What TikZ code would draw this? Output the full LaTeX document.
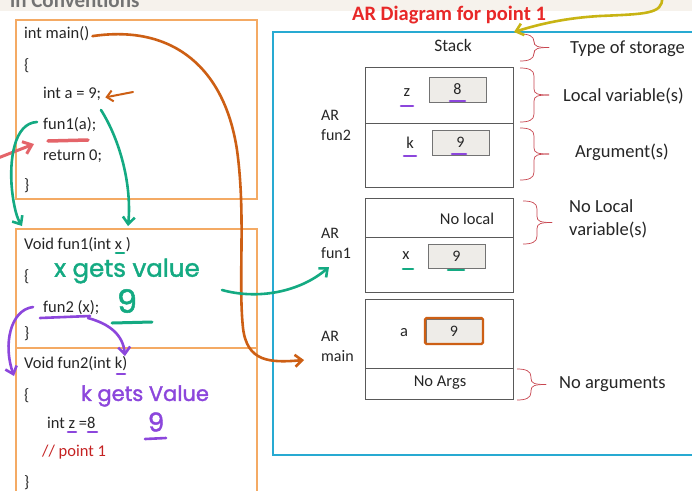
\documentclass[tikz,border=0pt]{standalone}
\usepackage{fontspec}
\setmainfont{Carlito}
\newfontfamily\handfont{Poppins}[FakeBold=1.6]
\usetikzlibrary{arrows.meta}

\definecolor{codeframe}{RGB}{244,170,100}
\definecolor{stackframe}{RGB}{40,170,210}
\definecolor{titlered}{RGB}{232,40,40}
\definecolor{bracered}{RGB}{200,70,80}
\definecolor{penorange}{RGB}{205,95,20}
\definecolor{pengreen}{RGB}{20,170,130}
\definecolor{penpurple}{RGB}{140,70,220}
\definecolor{penpink}{RGB}{228,100,105}
\definecolor{penyellow}{RGB}{200,180,20}
\definecolor{cellfill}{RGB}{238,236,232}
\definecolor{topband}{RGB}{246,242,236}

\tikzset{
  code/.style={anchor=base west, inner sep=0pt, font=\fontsize{16.5}{19}\selectfont, text=black!85},
  comment/.style={code, text=titlered!85!black},
  sidelabel/.style={inner sep=0pt, font=\fontsize{18.5}{22}\selectfont, text=black!85},
  boxtext/.style={inner sep=0pt, font=\fontsize{16.5}{20}\selectfont, text=black!85},
  arname/.style={anchor=west, align=left, inner sep=0pt, font=\fontsize{16}{20}\selectfont, text=black!85},
  codebox/.style={draw=codeframe, line width=1.5pt},
  arbox/.style={draw=black!65, line width=0.8pt},
  cell/.style={draw=black!55, fill=cellfill, line width=0.8pt, inner sep=0pt, font=\fontsize{16}{20}\selectfont, text=black!85},
  bracepen/.style={draw=bracered, line width=0.7pt},
  pen/.style={line width=2.6pt, line cap=round, line join=round},
  penarrow/.style={pen, -{Straight Barb[length=7pt,width=12pt,line width=2.6pt]}},
  hand/.style={inner sep=0pt, font=\handfont\fontsize{24.5}{27}\selectfont},
}

% curly brace opening to the left, tip pointing right
\newcommand\sidebrace[3]{%
  \pgfmathsetmacro\bm{(#2+#3)/2}%
  \draw[bracepen] (#1,#2) .. controls (#1+9,#2) and (#1+14,#2+2) .. (#1+14,#2+8)
    -- (#1+14,\bm-6) .. controls (#1+14,\bm-1) and (#1+18,\bm) .. (#1+29,\bm);
  \draw[bracepen] (#1+29,\bm) .. controls (#1+18,\bm) and (#1+14,\bm+1) .. (#1+14,\bm+6)
    -- (#1+14,#3-8) .. controls (#1+14,#3-2) and (#1+9,#3) .. (#1,#3);
}

\begin{document}
\begin{tikzpicture}[x=1pt,y=-1pt]
\useasboundingbox (0,0) rectangle (692,490);
\fill[white] (0,0) rectangle (692,490);
\fill[topband] (0,0) rectangle (692,11);
\begin{scope}
  \clip (0,0) rectangle (692,9);
  \node[anchor=base west, inner sep=0pt, font=\bfseries\fontsize{21}{24}\selectfont, text=black!55] (heading) at (10,7) {in Conventions};
\end{scope}

% ---------- source code frames ----------
\draw[codebox] (16,20) rectangle (257,199);
\draw[codebox] (16,229) rectangle (257,348);
\draw[codebox] (16,348) -- (16,495);
\draw[codebox] (257,348) -- (257,495);

\node[code] (mainsig)   at (24,38)  {int main()};
\node[code] (mainopen)  at (24,70)  {\{};
\node[code] (decla)     at (43,98)  {int a = 9;};
\node[code] (callf1)    at (43,129) {fun1(a);};
\node[code] (ret)       at (43,160) {return 0;};
\node[code] (mainclose) at (24,190) {\}};
\node[code] (f1sig)     at (24,249) {Void fun1(int x )};
\node[code] (f1open)    at (24,281) {\{};
\node[code] (callf2)    at (43,312) {fun2 (x);};
\node[code] (f1close)   at (24,338) {\}};
\node[code] (f2sig)     at (24,368) {Void fun2(int k)};
\node[code] (f2open)    at (24,400) {\{};
\node[code] (declz)     at (47,428) {int z =8};
\node[comment] (pt1)    at (42,456) {// point 1};
\node[code] (f2close)   at (24,487) {\}};

% ---------- activation record diagram ----------
\node[font=\bfseries\fontsize{20.5}{24}\selectfont, text=titlered, inner sep=0pt] (title) at (449,15) {AR Diagram for point 1};
\draw[draw=stackframe, line width=1.6pt] (700,32) -- (273,32) -- (273,455) -- (700,455);
\node[boxtext, font=\fontsize{17.5}{20}\selectfont] (stack) at (453,45) {Stack};

% AR of fun2
\node[arbox, minimum width=148pt, minimum height=120pt, inner sep=0pt] (arf2) at (439,127) {};
\draw[arbox] (365,123) -- (513,123);
\node[boxtext] (zname) at (407,93) {z};
\node[cell, minimum width=57pt, minimum height=25pt] (zval) at (457.5,89.5) {8};
\node[boxtext] (kname) at (410,143) {k};
\node[cell, minimum width=57pt, minimum height=25pt] (kval) at (460.5,142.5) {9};
\node[arname] (arf2lab) at (321,125) {AR\\fun2};

% AR of fun1
\node[arbox, minimum width=148pt, minimum height=94pt, inner sep=0pt] (arf1) at (439,245) {};
\draw[arbox] (365,237) -- (513,237);
\node[boxtext] (nolocal) at (467,219) {No local};
\node[boxtext] (xname) at (406,256) {x};
\node[cell, minimum width=57pt, minimum height=24pt] (xval) at (456.5,256) {9};
\node[arname] (arf1lab) at (321,243) {AR\\fun1};

% AR of main
\node[arbox, minimum width=148pt, minimum height=100pt, inner sep=0pt] (armain) at (439,349) {};
\draw[arbox] (365,368) -- (513,368);
\node[boxtext] (aname) at (404,333) {a};
\node[cell, minimum width=56pt, minimum height=24pt] (aval) at (454,331) {9};
\draw[penorange, line width=2.4pt, rounded corners=1.5pt] (425,318) rectangle (483,344);
\node[arname] (armainlab) at (321,346) {AR\\main};
\node[boxtext] (noargs) at (440,383) {No Args};

% braces and their labels
\sidebrace{520}{34}{61}
\node[sidelabel, anchor=base west] (typelab) at (570,53) {Type of storage};
\sidebrace{520}{68}{122}
\node[sidelabel, anchor=base west] (locallab) at (563,101) {Local variable(s)};
\sidebrace{520}{128}{180}
\node[sidelabel, anchor=base west] (arglab) at (575,157) {Argument(s)};
\sidebrace{523}{201}{244}
\node[sidelabel, anchor=west, align=left, font=\fontsize{18.5}{23}\selectfont] (nolocallab) at (569,219) {No Local\\variable(s)};
\sidebrace{517}{369}{400}
\node[sidelabel, anchor=base west] (noarglab) at (559,388) {No arguments};

% ---------- pen annotations ----------
% yellow pointer to the diagram
\coordinate (ytop) at (662,-2);
\coordinate (yend) at (514,32);
\draw[penyellow, penarrow] (ytop) .. controls (663,14) and (645,14) .. (600,16)
  .. controls (565,18) and (540,24) .. (yend);

% orange: main's record
\coordinate (oend) at (304,360);
\draw[penorange, penarrow] ([xshift=3pt,yshift=-3pt]mainsig.east) .. controls (175,24) and (225,70) .. (237,150)
  .. controls (246,215) and (238,280) .. (243,328) .. controls (247,362) and (270,363) .. (oend);
\coordinate (otail) at (133,92);
\draw[penorange, line width=2pt, line cap=round, -{Straight Barb[length=6pt,width=11pt,line width=2pt]}] (otail) -- ([xshift=4pt,yshift=-4pt]decla.east);

% pink: return point
\coordinate (pstart) at (-2,158);
\coordinate (pend) at (34,144);
\draw[penpink, line width=3pt, line cap=round, -{Straight Barb[length=8pt,width=13pt,line width=3pt]}] (pstart) -- (pend);
\draw[penpink, line width=3.5pt, line cap=round] (48,141) -- (88,140);

% green: call of fun1
\coordinate (gdown) at (128,226);
\draw[pengreen, penarrow] (101,110) .. controls (120,140) and (132,185) .. (gdown);
\coordinate (gleft) at (22,226);
\draw[pengreen, penarrow] (37,122) .. controls (14,123) and (9,160) .. (12,190)
  .. controls (14,208) and (17,218) .. (gleft);
\coordinate (gstart) at (222,290);
\coordinate (gend) at (329,267);
\draw[pengreen, penarrow] (gstart) .. controls (258,300) and (300,292) .. (gend);
\draw[pengreen, pen] (116,253) -- (124,253);
\draw[pengreen, pen, line width=3pt] (112,323) -- (152,322);
\node[hand, text=pengreen] (xgets) at (127,271) {x gets value};
\node[hand, text=pengreen, font=\handfont\fontsize{32}{34}\selectfont] (xnine) at (127,301) {9};
\draw[pengreen, pen] (403,269) -- (413,269);
\draw[pengreen, pen] (448,270) -- (464,270);

% purple: call of fun2
\draw[penpurple, pen] (40,318) -- (90,316);
\coordinate (vleft) at (14,376);
\draw[penpurple, penarrow] (33,307) .. controls (10,310) and (3,345) .. (vleft);
\coordinate (vright) at (125,356);
\draw[penpurple, penarrow] (88,318) .. controls (110,324) and (123,335) .. (vright);
\draw[penpurple, pen] (117,374) -- (125,374);
\draw[penpurple, pen] (68,432) -- (76,432);
\draw[penpurple, pen] (88,432) -- (97,432);
\node[hand, text=penpurple, font=\handfont\fontsize{21}{24}\selectfont] (kgets) at (145,396) {k gets Value};
\node[hand, text=penpurple, font=\handfont\fontsize{26}{28}\selectfont] (knine) at (156,422) {9};
\draw[penpurple, pen] (145,439) -- (166,438);
\draw[penpurple, pen] (401,106) -- (413,106);
\draw[penpurple, pen] (450,101) -- (465,101);
\draw[penpurple, pen] (404,156) -- (416,156);
\draw[penpurple, pen] (452,154) -- (466,154);
\end{tikzpicture}
\end{document}
